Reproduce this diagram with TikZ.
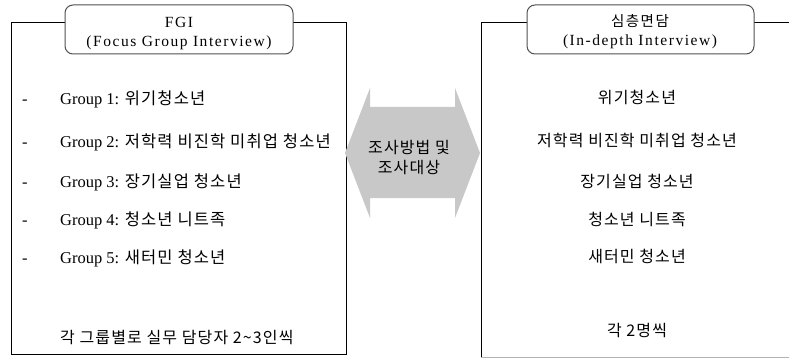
\documentclass[tikz,border=0pt]{standalone}
\usepackage{fontspec}
\setmainfont{Liberation Serif}
\newfontfamily\kr[LetterSpace=7]{Noto Sans CJK KR}
\newfontfamily\ttl[LetterSpace=10]{Liberation Serif}
\newfontfamily\ttlkr[LetterSpace=10]{Noto Sans CJK KR}
\definecolor{arrowgray}{RGB}{200,200,200}
\definecolor{framegray}{RGB}{80,80,80}
\tikzset{
  frame/.style={draw=black, line width=0.9pt},
  titlebox/.style={draw=framegray, fill=white, rounded corners=8pt, line width=1pt},
  ttltext/.style={inner sep=0pt, anchor=base, font=\fontsize{15.5}{17}\selectfont\ttl},
  item/.style={inner sep=0pt, anchor=base west, font=\fontsize{16.5}{18}\selectfont},
  citem/.style={inner sep=0pt, anchor=base, font=\fontsize{16}{18}\selectfont\kr},
}
\begin{document}
\begin{tikzpicture}[x=1pt,y=-1pt]
\useasboundingbox (0,0) rectangle (789,358);
% left frame
\draw[frame] (11,22) rectangle (346,354);
% right frame (clipped at the picture edge)
\draw[frame] (795,22) -- (481,22) -- (481,357);
\draw[draw=gray!60, line width=0.9pt] (481,357) -- (795,357);
% title boxes
\draw[titlebox] (65,5) rectangle (293,54);
\draw[titlebox] (527,5) rectangle (754,54);
\node[ttltext] (t1a) at (179,28) {FGI};
\node[ttltext] (t1b) at (179,47) {(Focus Group Interview)};
\node[ttltext, font=\fontsize{14.5}{16}\selectfont\ttlkr] (t2a) at (640,27) {심층면담};
\node[ttltext] (t2b) at (640,46) {(In-depth Interview)};
% double arrow
\fill[arrowgray] (345,153) -- (370,88) -- (370,107) -- (455,107) -- (455,88) -- (480,153)
  -- (455,218) -- (455,198) -- (370,198) -- (370,218) -- cycle;
\node[citem] (a1) at (409,154) {조사방법 및};
\node[citem] (a2) at (409,174) {조사대상};
% left items
\foreach \y/\n in {105/d1,148/d2,188/d3,225/d4,263/d5}
  \node[item] (\n) at (22,\y) {-};
\node[item] (g1) at (60,105) {Group 1: {\kr 위기청소년}};
\node[item] (g2) at (60,148) {Group 2: {\kr 저학력 비진학 미취업 청소년}};
\node[item] (g3) at (60,188) {Group 3: {\kr 장기실업 청소년}};
\node[item] (g4) at (60,225) {Group 4: {\kr 청소년 니트족}};
\node[item] (g5) at (60,263) {Group 5: {\kr 새터민 청소년}};
\node[item, font=\fontsize{16}{18}\selectfont\kr] (g6) at (60,343) {각 그룹별로 실무 담당자 2\textasciitilde 3인씩};
% right items
\node[citem] (r1) at (637,104) {위기청소년};
\node[citem] (r2) at (637,147) {저학력 비진학 미취업 청소년};
\node[citem] (r3) at (637,187) {장기실업 청소년};
\node[citem] (r4) at (637,225) {청소년 니트족};
\node[citem] (r5) at (637,262) {새터민 청소년};
\node[citem] (r6) at (637,336) {각 2명씩};
\end{tikzpicture}
\end{document}
